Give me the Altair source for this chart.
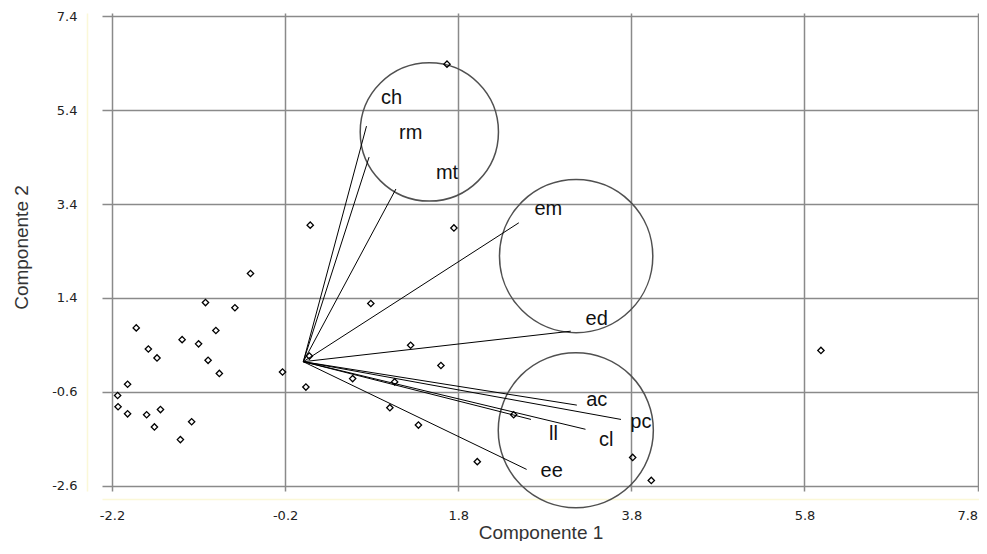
import altair as alt
import pandas as pd

# ---- data ----
obs_x = [-0.60, -1.12, -0.78, -1.92, -1.00, -1.39, -1.20, -1.78, -1.68, -1.09,
         -0.96, -0.23, 0.04, -2.02, -2.135, -2.13, -2.02, -1.80, -1.64, -1.71,
         -1.28, -1.41, 0.08, 0.09, 1.67, 1.75, 0.79, 1.25, 1.60, 0.58,
         1.065, 1.01, 1.34, 2.44, 2.02, 3.815, 4.03, 5.99]
obs_y = [1.92, 1.30, 1.19, 0.76, 0.705, 0.51, 0.42, 0.31, 0.12, 0.07,
         -0.21, -0.18, -0.50, -0.44, -0.68, -0.92, -1.07, -1.09, -0.98, -1.35,
         -1.24, -1.62, 0.16, 2.95, 6.38, 2.89, 1.28, 0.39, -0.04, -0.32,
         -0.39, -0.94, -1.31, -1.09, -2.09, -2.00, -2.49, 0.28]

vec_names = ["ch", "rm", "mt", "em", "ed", "ac", "pc", "cl", "ll", "ee"]
vec_x = [0.74, 0.77, 1.08, 2.50, 3.10, 3.17, 3.68, 3.27, 2.64, 2.59]
vec_y = [5.06, 4.40, 3.72, 3.00, 0.69, -0.885, -1.19, -1.40, -1.19, -2.255]
label_x = [1.03, 1.25, 1.67, 2.84, 3.40, 3.40, 3.91, 3.51, 2.90, 2.88]
label_y = [5.66, 4.92, 4.06, 3.29, 0.96, -0.78, -1.245, -1.62, -1.49, -2.29]
origin_x = 0.01
origin_y = 0.04

circle_x = [1.466, 3.162, 3.158]
circle_y = [4.935, 2.29, -1.42]

ticks_x = [-2.2, -0.2, 1.8, 3.8, 5.8, 7.8]
ticks_y = [-2.6, -0.6, 1.4, 3.4, 5.4, 7.4]

# ---- styles ----
CIRCLE_R_PX = [78, 86.5, 87.5]
W, H = 877, 478
X_DOM = [-2.3155, 7.816]
Y_DOM = [-2.715, 7.47]
GRID = "#8a8a8a"
PALE = "#fbf8d8"

obs = pd.DataFrame({"x": obs_x, "y": obs_y})
vec = pd.DataFrame({"x": [origin_x] * len(vec_x), "y": [origin_y] * len(vec_y),
                    "x2": vec_x, "y2": vec_y})
lab = pd.DataFrame({"x": label_x, "y": label_y, "t": vec_names})
circ = pd.DataFrame({"x": circle_x, "y": circle_y,
                     "s": [3.14159 * r * r for r in CIRCLE_R_PX]})

lbl_expr = "datum.value < 0 ? '-' + format(-datum.value, '.1f') : format(datum.value, '.1f')"

x_enc = alt.X("x:Q", scale=alt.Scale(domain=X_DOM, nice=False, zero=False),
              axis=alt.Axis(values=ticks_x, title="Componente 1", grid=True,
                            gridColor=GRID, gridWidth=1.5, gridOpacity=1,
                            domainColor=PALE, domainWidth=1.5, offset=8,
                            ticks=False, tickSize=0, labelPadding=10,
                            labelFlush=5,
                            labelExpr=lbl_expr, labelFont="DejaVu Sans",
                            labelFontSize=13, labelColor="#222",
                            titleFont="Liberation Sans", titleFontSize=19,
                            titleFontWeight="normal", titleColor="#333",
                            titlePadding=1))
y_enc = alt.Y("y:Q", scale=alt.Scale(domain=Y_DOM, nice=False, zero=False),
              axis=alt.Axis(values=ticks_y, title="Componente 2", grid=True,
                            gridColor=GRID, gridWidth=1.5, gridOpacity=1,
                            domainColor=PALE, domainWidth=1.5, offset=15,
                            ticks=False, tickSize=0, labelPadding=10,
                            labelExpr=lbl_expr, labelFont="DejaVu Sans",
                            labelFontSize=13, labelColor="#222",
                            titleFont="Liberation Sans", titleFontSize=19,
                            titleFontWeight="normal", titleColor="#333",
                            titlePadding=20, titleY=234))

circles = alt.Chart(circ).mark_point(shape="circle", filled=False, color="#505050",
                                      strokeWidth=1.5, opacity=1).encode(
    x=x_enc, y=y_enc, size=alt.Size("s:Q", scale=None, legend=None))

vectors = alt.Chart(vec).mark_rule(color="black", strokeWidth=1).encode(
    x=x_enc, y=y_enc, x2="x2:Q", y2="y2:Q")

points = alt.Chart(obs).mark_point(shape="diamond", filled=False, color="black",
                                   size=40, strokeWidth=1.3, opacity=1).encode(
    x=x_enc, y=y_enc)

labels = alt.Chart(lab).mark_text(align="center", baseline="middle",
                                  font="Liberation Sans", fontSize=20,
                                  color="#111").encode(
    x=x_enc, y=y_enc, text="t:N")

chart = alt.layer(circles, vectors, points, labels).properties(
    width=W, height=H,
    autosize=alt.AutoSizeParams(type="none"),
    padding={"left": 94, "top": 5, "right": 0, "bottom": 50},
).configure_view(stroke=None)

chart.save("out.html", embed_options={"renderer": "svg", "actions": False})
